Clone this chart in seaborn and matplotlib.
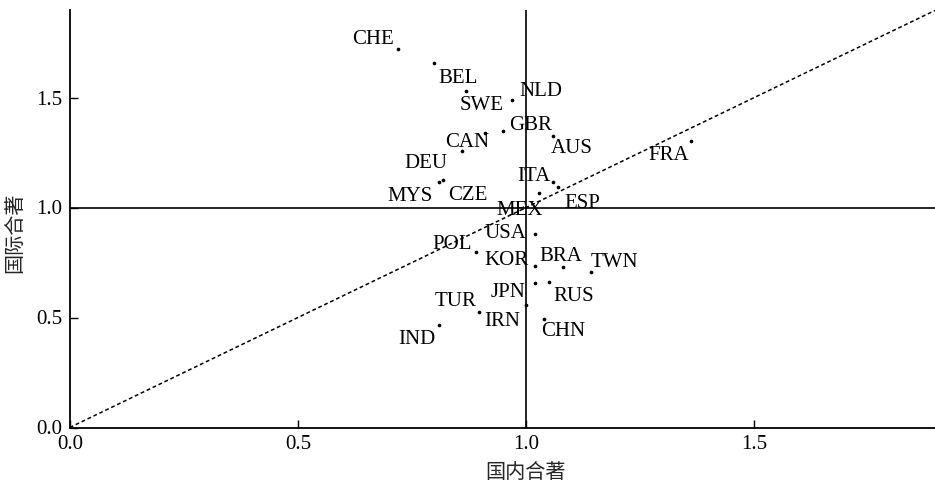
import matplotlib
matplotlib.use("Agg")
import matplotlib.pyplot as plt
import pandas as pd
import seaborn as sns

# Relative co-authorship indices per economy
countries = ["CHE", "BEL", "SWE", "NLD", "GBR", "CAN", "AUS", "FRA", "DEU",
             "MYS", "CZE", "ITA", "ESP", "MEX", "USA", "POL", "KOR", "BRA",
             "TWN", "JPN", "RUS", "IRN", "TUR", "IND", "CHN"]
domestic = [0.719, 0.799, 0.868, 0.970, 0.949, 0.910, 1.059, 1.361, 0.859,
            0.809, 0.817, 1.059, 1.070, 1.029, 1.019, 0.889, 1.019, 1.080,
            1.141, 1.019, 1.049, 0.999, 0.897, 0.809, 1.038]
international = [1.719, 1.658, 1.530, 1.489, 1.348, 1.340, 1.326, 1.304, 1.257,
                 1.117, 1.125, 1.117, 1.095, 1.067, 0.880, 0.796, 0.735, 0.728,
                 0.707, 0.655, 0.663, 0.557, 0.524, 0.466, 0.493]

x_ticks = [0.0, 0.5, 1.0, 1.5]
y_ticks = [0.0, 0.5, 1.0, 1.5]
x_label = "国内合著"
y_label = "国际合著"

# where each label's capital-letter centre sits relative to its point (pixels: right, down)
label_offsets = {
    "CHE": (-25, -12), "BEL": (24, 13), "SWE": (16, 12), "NLD": (28, -11),
    "GBR": (28, -8), "CAN": (-18, 7), "AUS": (19, 10), "FRA": (-22, 12),
    "DEU": (-36, 10), "MYS": (-29, 12), "CZE": (25, 13), "ITA": (-19, -8),
    "ESP": (24, 14), "MEX": (-20, 15), "USA": (-29, -3), "POL": (-23, -10),
    "KOR": (-28, -8), "BRA": (-2, -13), "TWN": (24, -12), "JPN": (-27, 7),
    "RUS": (25, 12), "IRN": (-23, 14), "TUR": (-24, -13), "IND": (-22, 12),
    "CHN": (20, 10),
}

sns.set_theme(style="ticks")
plt.rcParams["font.family"] = ["Liberation Serif", "Noto Sans CJK SC"]
plt.rcParams["axes.edgecolor"] = "black"

W, H = 935, 487
fig = plt.figure(figsize=(W / 100, H / 100), dpi=100)
ax = fig.add_axes([69.75 / W, 59.5 / H, 867.2 / W, 418 / H])

lim = (0.0, 1.9)
ax.set_xlim(*lim)
ax.set_ylim(*lim)

df = pd.DataFrame({"country": countries, "domestic": domestic,
                   "international": international})

# reference lines: diagonal y = x and the unit cross-hair
sns.lineplot(x=list(lim), y=list(lim), ax=ax, color="black", lw=1.1,
             linestyle=(0, (2.5, 1.8)), zorder=1)
ax.axvline(1.0, color="black", lw=1.2, zorder=1)
ax.axhline(1.0, color="black", lw=1.2, zorder=1)

sns.scatterplot(data=df, x="domestic", y="international", ax=ax,
                color="black", s=7, linewidth=0, zorder=3)

cap_half = 6.9
for name, xv, yv in zip(countries, domestic, international):
    dx, dy = label_offsets[name]
    ax.annotate(name, (xv, yv), xytext=(dx, -(dy + cap_half)),
                textcoords="offset pixels", ha="center", va="baseline",
                fontsize=15, color="black", zorder=4)

ax.set_xticks(x_ticks)
ax.set_yticks(y_ticks)
ax.set_xticklabels([f"{t:.1f}" for t in x_ticks])
ax.set_yticklabels([f"{t:.1f}" for t in y_ticks])
ax.tick_params(direction="in", length=6, width=1, labelsize=15, pad=5.5,
               colors="black")

for side in ("top", "right"):
    ax.spines[side].set_visible(False)
for side in ("left", "bottom"):
    ax.spines[side].set_linewidth(1.3)

ax.set_xlabel(x_label, fontsize=14.5, family=["Noto Sans CJK SC"],
              va="center", ha="center")
ax.set_ylabel(y_label, fontsize=14.5, family=["Noto Sans CJK SC"],
              va="center", ha="center")
ax.xaxis.set_label_coords(0.525, -0.108)
ax.yaxis.set_label_coords(-0.063, 0.465)

fig.savefig("out.png", dpi=100)
